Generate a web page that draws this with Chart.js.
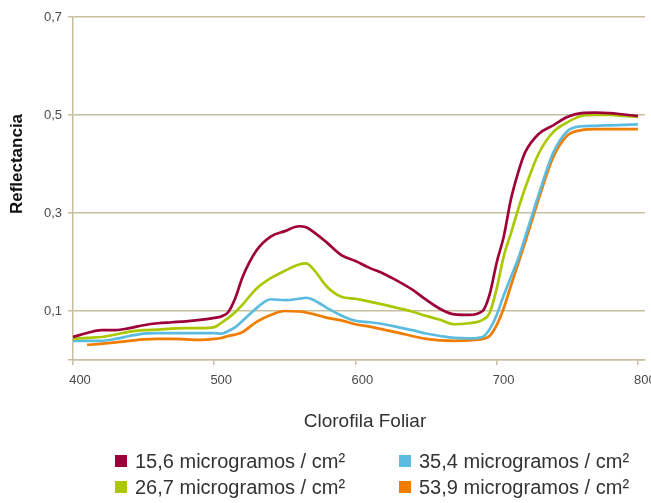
<!DOCTYPE html>
<html>
<head>
<meta charset="utf-8">
<script src="https://cdn.jsdelivr.net/npm/chart.js@4.4.1/dist/chart.umd.min.js"></script>
<style>
  body { margin: 0; background: #fff; }
  #wrap { position: relative; width: 651px; height: 503px; overflow: hidden; }
  #chart { position: absolute; left: 0; top: 0; }
  .item {
    position: absolute; height: 24px; line-height: 24px;
    display: flex; align-items: center; white-space: nowrap;
    font-family: "Liberation Sans", Arial, sans-serif; font-size: 20px; color: #333;
  }
  .item span.box { width: 12px; height: 12px; margin-right: 8px; display: inline-block; }
</style>
</head>
<body>
<div id="wrap">
  <canvas id="chart" width="651" height="503"></canvas>
  <div id="legend"></div>
</div>
<script>
const wavelengths = [400, 410, 420, 430, 440, 450, 460, 470, 480, 490, 500, 505, 510, 515, 520, 530, 540, 550, 560, 565,
  570, 580, 590, 600, 610, 620, 630, 640, 650, 660, 670, 680, 690, 695, 700, 705, 710, 715, 720, 730, 740, 750, 760, 770,
  780, 790, 800];

const chl156 = [0.047, 0.055, 0.061, 0.061, 0.065, 0.071, 0.075, 0.077, 0.079, 0.082, 0.086, 0.089, 0.098, 0.127, 0.169,
  0.224, 0.252, 0.263, 0.273, 0.271, 0.262, 0.239, 0.214, 0.202, 0.188, 0.176, 0.161, 0.144, 0.123, 0.104, 0.093, 0.092,
  0.100, 0.134, 0.199, 0.252, 0.327, 0.381, 0.423, 0.462, 0.479, 0.496, 0.504, 0.505, 0.504, 0.501, 0.498];

const chl267 = [0.043, 0.045, 0.047, 0.052, 0.058, 0.061, 0.062, 0.064, 0.065, 0.065, 0.067, 0.076, 0.086, 0.098, 0.113,
  0.146, 0.167, 0.182, 0.195, 0.197, 0.186, 0.149, 0.129, 0.125, 0.119, 0.113, 0.106, 0.099, 0.090, 0.082, 0.073, 0.075,
  0.082, 0.096, 0.146, 0.212, 0.258, 0.306, 0.350, 0.423, 0.465, 0.485, 0.498, 0.500, 0.500, 0.498, 0.496];

const chl354 = [0.039, 0.039, 0.039, 0.043, 0.049, 0.054, 0.055, 0.055, 0.055, 0.055, 0.055, 0.054, 0.059, 0.067, 0.080,
  0.106, 0.124, 0.122, 0.125, 0.127, 0.123, 0.106, 0.091, 0.080, 0.077, 0.073, 0.067, 0.061, 0.054, 0.049, 0.045, 0.044,
  0.047, 0.063, 0.092, 0.132, 0.169, 0.205, 0.249, 0.340, 0.423, 0.467, 0.477, 0.478, 0.479, 0.480, 0.481];

const chl539 = [null, 0.031, 0.033, 0.036, 0.039, 0.042, 0.043, 0.043, 0.042, 0.041, 0.043, 0.045, 0.049, 0.052, 0.057,
  0.078, 0.092, 0.100, 0.099, 0.097, 0.094, 0.086, 0.081, 0.073, 0.068, 0.062, 0.056, 0.049, 0.043, 0.040, 0.039, 0.040,
  0.043, 0.049, 0.071, 0.106, 0.151, 0.195, 0.239, 0.331, 0.414, 0.458, 0.469, 0.471, 0.471, 0.471, 0.471];

const seriesLabels = ['15,6 microgramos / cm²', '26,7 microgramos / cm²', '35,4 microgramos / cm²', '53,9 microgramos / cm²'];
const seriesColors = ['#9e0039', '#abc700', '#5bbce0', '#f07c00'];
const yTicks = [0, 0.1, 0.3, 0.5, 0.7];
const xTicks = [400, 500, 600, 700, 800];
const yTitle = 'Reflectancia';
const xTitle = 'Clorofila Foliar';

const gridColor = '#c7bf9f';
const allSeries = [chl156, chl267, chl354, chl539];

// Axis titles drawn by hand so they sit where the original has them
const axisTitles = {
  id: 'axisTitles',
  afterDraw(chart) {
    const ctx = chart.ctx;
    ctx.save();
    ctx.fillStyle = '#111';
    ctx.font = 'bold 17px "Liberation Sans", Arial, sans-serif';
    ctx.textAlign = 'center';
    ctx.textBaseline = 'middle';
    ctx.translate(17, 164);
    ctx.rotate(-Math.PI / 2);
    ctx.fillText(yTitle, 0, 0);
    ctx.restore();

    ctx.save();
    ctx.fillStyle = '#333';
    ctx.font = '19px "Liberation Sans", Arial, sans-serif';
    ctx.textAlign = 'center';
    ctx.textBaseline = 'middle';
    ctx.fillText(xTitle, 365, 422);
    ctx.restore();
  }
};

const ctx = document.getElementById('chart').getContext('2d');
const chart = new Chart(ctx, {
  type: 'line',
  data: {
    datasets: allSeries.map((vals, i) => ({
      label: seriesLabels[i],
      data: wavelengths.map((w, j) => ({ x: w, y: vals[j] })),
      borderColor: seriesColors[i],
      backgroundColor: seriesColors[i],
      borderWidth: 2.7,
      pointRadius: 0,
      cubicInterpolationMode: 'monotone',
      fill: false
    }))
  },
  options: {
    responsive: false,
    animation: false,
    devicePixelRatio: 1,
    layout: { padding: { top: 17, right: 6, left: 0, bottom: 0 } },
    plugins: {
      legend: { display: false },
      tooltip: { enabled: false }
    },
    scales: {
      x: {
        type: 'linear',
        min: 400,
        max: 805,
        afterBuildTicks: (scale) => { scale.ticks = xTicks.map(v => ({ value: v })); },
        afterFit: (scale) => { scale.height = 143; scale.paddingLeft = 0; scale.paddingRight = 0; },
        grid: { drawOnChartArea: false, drawTicks: true, tickLength: 5, color: gridColor, lineWidth: 1.5 },
        border: { display: true, color: gridColor, width: 1.5 },
        ticks: {
          color: '#4a4a4a',
          padding: 8,
          labelOffset: 7,
          maxRotation: 0,
          font: { family: '"Liberation Sans", Arial, sans-serif', size: 13 },
          callback: (v) => String(v)
        }
      },
      y: {
        min: 0,
        max: 0.7,
        afterBuildTicks: (scale) => { scale.ticks = yTicks.map(v => ({ value: v })); },
        afterFit: (scale) => { scale.width = 73; },
        grid: { color: gridColor, lineWidth: 1.5, tickLength: 5 },
        border: { display: true, color: gridColor, width: 1.5 },
        ticks: {
          color: '#4a4a4a',
          padding: 6,
          font: { family: '"Liberation Sans", Arial, sans-serif', size: 13 },
          callback: (v) => v === 0 ? '' : v.toFixed(1).replace('.', ',')
        }
      }
    }
  },
  plugins: [axisTitles]
});

// Legend in two columns, filled column by column
const legendBox = document.getElementById('legend');
const colLeft = [115, 399];
const rowTop = [449, 475];
seriesLabels.forEach((label, i) => {
  const item = document.createElement('div');
  item.className = 'item';
  item.style.left = colLeft[Math.floor(i / 2)] + 'px';
  item.style.top = rowTop[i % 2] + 'px';
  const box = document.createElement('span');
  box.className = 'box';
  box.style.background = seriesColors[i];
  item.appendChild(box);
  item.appendChild(document.createTextNode(label));
  legendBox.appendChild(item);
});
</script>
</body>
</html>
